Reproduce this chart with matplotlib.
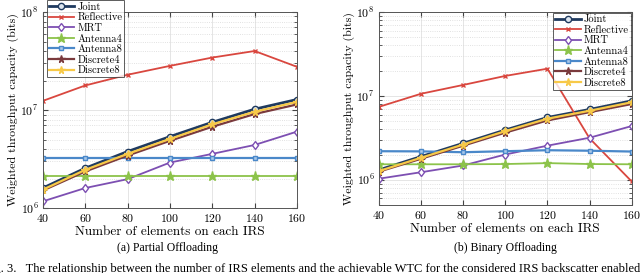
import numpy as np
import matplotlib
matplotlib.use("Agg")
import matplotlib.pyplot as plt
from matplotlib.ticker import LogLocator, NullFormatter

plt.rcParams['font.family'] = ['cmr10', 'DejaVu Serif']
plt.rcParams['mathtext.fontset'] = 'cm'
plt.rcParams['axes.formatter.use_mathtext'] = True

# number of elements on each IRS
elements = [40, 60, 80, 100, 120, 140, 160]

# (a) partial offloading
partial = {
    "Joint":      [1.60e6, 2.55e6, 3.77e6, 5.35e6, 7.50e6, 1.02e7, 1.28e7],
    "Reflective": [1.24e7, 1.78e7, 2.29e7, 2.82e7, 3.43e7, 4.00e7, 2.76e7],
    "MRT":        [1.17e6, 1.60e6, 1.97e6, 2.91e6, 3.57e6, 4.40e6, 6.02e6],
    "Antenna4":   [2.10e6, 2.10e6, 2.10e6, 2.10e6, 2.10e6, 2.10e6, 2.10e6],
    "Antenna8":   [3.27e6, 3.27e6, 3.27e6, 3.27e6, 3.27e6, 3.27e6, 3.27e6],
    "Discrete4":  [1.51e6, 2.36e6, 3.43e6, 4.85e6, 6.75e6, 9.10e6, 1.14e7],
    "Discrete8":  [1.54e6, 2.45e6, 3.57e6, 5.07e6, 7.15e6, 9.60e6, 1.21e7],
}

# (b) binary offloading
binary = {
    "Joint":      [1.31e6, 1.89e6, 2.72e6, 3.92e6, 5.53e6, 6.89e6, 8.73e6],
    "Reflective": [7.40e6, 1.06e7, 1.35e7, 1.73e7, 2.11e7, 3.12e6, 9.55e5],
    "MRT":        [1.03e6, 1.23e6, 1.48e6, 2.00e6, 2.55e6, 3.17e6, 4.37e6],
    "Antenna4":   [1.53e6, 1.53e6, 1.53e6, 1.54e6, 1.58e6, 1.54e6, 1.53e6],
    "Antenna8":   [2.19e6, 2.18e6, 2.13e6, 2.19e6, 2.25e6, 2.22e6, 2.17e6],
    "Discrete4":  [1.25e6, 1.78e6, 2.55e6, 3.65e6, 5.10e6, 6.40e6, 8.00e6],
    "Discrete8":  [1.27e6, 1.83e6, 2.63e6, 3.80e6, 5.35e6, 6.65e6, 8.40e6],
}

styles = {
    "Joint":      dict(color="#1f3a5f", marker="o", mfc="#dde6f0", ms=4.5, lw=2.0),
    "Reflective": dict(color="#d9473f", marker="x", mfc="#d9473f", ms=3.5, lw=1.3),
    "MRT":        dict(color="#7d4fb2", marker="d", mfc="#ffffff", ms=4.5, lw=1.3),
    "Antenna4":   dict(color="#8cc34a", marker="*", mfc="#8cc34a", ms=6.5, lw=1.3),
    "Antenna8":   dict(color="#4a88c9", marker="s", mfc="#a9c8ea", ms=3.5, lw=1.6),
    "Discrete4":  dict(color="#7a3a3d", marker="*", mfc="#7a3a3d", ms=5.5, lw=1.6),
    "Discrete8":  dict(color="#f7c948", marker="*", mfc="#f7c948", ms=5.5, lw=1.6),
}

fig = plt.figure(figsize=(6.4, 2.73), dpi=100)
ax1 = fig.add_axes([0.067, 0.238, 0.397, 0.718])
ax2 = fig.add_axes([0.592, 0.249, 0.395, 0.707])


def draw(ax, data, ylim):
    for name, vals in data.items():
        st = styles[name]
        ax.plot(elements, vals, color=st["color"], marker=st["marker"],
                markerfacecolor=st["mfc"], markeredgecolor=st["color"],
                markersize=st["ms"], linewidth=st["lw"], label=name)
    ax.set_yscale("log")
    ax.set_xlim(40, 160)
    ax.set_ylim(*ylim)
    ax.set_xticks(elements)
    ax.yaxis.set_major_locator(LogLocator(base=10))
    ax.yaxis.set_minor_locator(LogLocator(base=10, subs=np.arange(2, 10)))
    ax.yaxis.set_minor_formatter(NullFormatter())
    ax.grid(True, which="major", color="#e0e0e0", linewidth=0.6)
    ax.grid(True, which="minor", color="#d8d8d8", linestyle=":", linewidth=0.6)
    ax.tick_params(which="both", direction="in", top=True, right=True,
                   labelsize=8.5, color="#444444", pad=3)
    ax.tick_params(which="minor", length=2)
    for sp in ax.spines.values():
        sp.set_color("#555555")
        sp.set_linewidth(0.7)
    ax.set_xlabel("Number of elements on each IRS", fontsize=9.5, labelpad=1)
    ax.set_ylabel("Weighted throughput capacity (bits)", fontsize=8.6, labelpad=1)


draw(ax1, partial, (1e6, 1e8))
draw(ax2, binary, (5e5, 1e8))

leg_kw = dict(fontsize=7.6, frameon=True, fancybox=False, edgecolor="#333333",
              borderpad=0.2, labelspacing=0.1, handlelength=2.4,
              handletextpad=0.3, borderaxespad=0.0)
l1 = ax1.legend(loc="upper left", bbox_to_anchor=(0.015, 1.06), **leg_kw)
l2 = ax2.legend(loc="upper right", bbox_to_anchor=(0.997, 0.997), **leg_kw)
for lg in (l1, l2):
    lg.get_frame().set_linewidth(0.7)

cap = dict(family=["Liberation Serif", "DejaVu Serif"], fontsize=8.5,
           ha="center", va="center")
fig.text(0.262, 0.092, "(a) Partial Offloading", **cap)
fig.text(0.789, 0.092, "(b) Binary Offloading", **cap)
fig.text(-0.025, 0.015,
         "Fig. 3.   The relationship between the number of IRS elements and the achievable "
         "WTC for the considered IRS backscatter enabled ISCC system.",
         family=["Liberation Serif", "DejaVu Serif"], fontsize=9,
         ha="left", va="center")

fig.savefig("out.png", dpi=100)
